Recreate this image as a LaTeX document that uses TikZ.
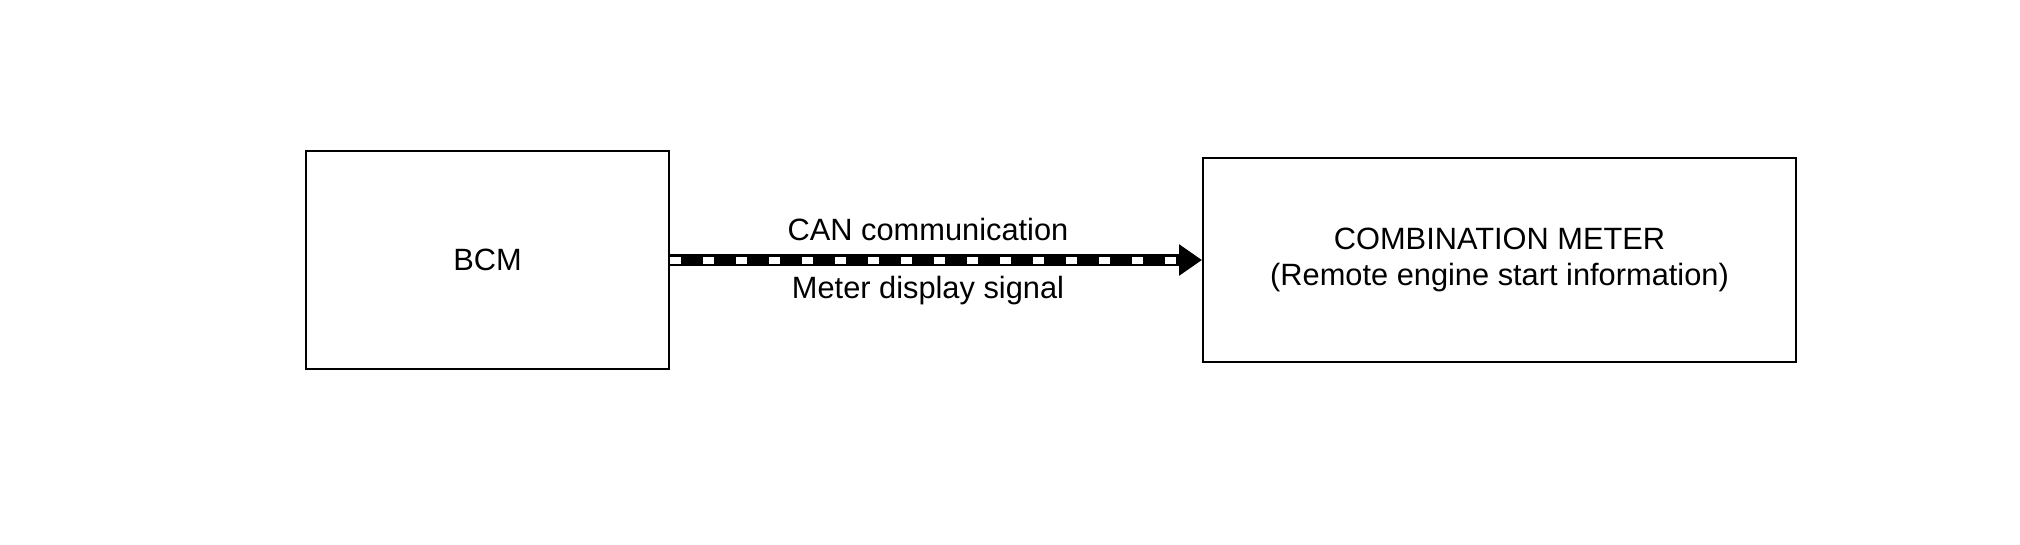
\documentclass[tikz,border=0pt]{standalone}
\usepackage{fontspec}
\setmainfont{Liberation Sans}
\usetikzlibrary{arrows.meta}
\begin{document}
\begin{tikzpicture}[x=0.1mm,y=-0.1mm,
  lbl/.style={font=\fontsize{8.76pt}{10.4pt}\selectfont},
  unit/.style={draw=black,line width=0.2mm,fill=white,lbl,align=center,inner sep=0pt},
  canbus/.style={line width=1.15mm,-{Triangle[length=2.3mm,width=3.0mm]}},
  candash/.style={white,line width=0.7mm,dash pattern=on 1.1mm off 2.2mm,shorten >=2.4mm}]
\useasboundingbox (0,0) rectangle (2020,544);
\node[unit,minimum width=36.3mm,minimum height=21.8mm] (bcm) at (487.5,260) {BCM};
\node[unit,minimum width=59.3mm,minimum height=20.4mm] (meter) at (1499.5,260)
  {COMBINATION METER\\(Remote engine start information)};
\draw[canbus] (bcm.east) -- (meter.west);
\draw[candash] (bcm.east) -- (meter.west);
\node[lbl,anchor=base] (can) at (928,240) {CAN communication};
\node[lbl,anchor=base] (sig) at (928,298) {Meter display signal};
\end{tikzpicture}
\end{document}
